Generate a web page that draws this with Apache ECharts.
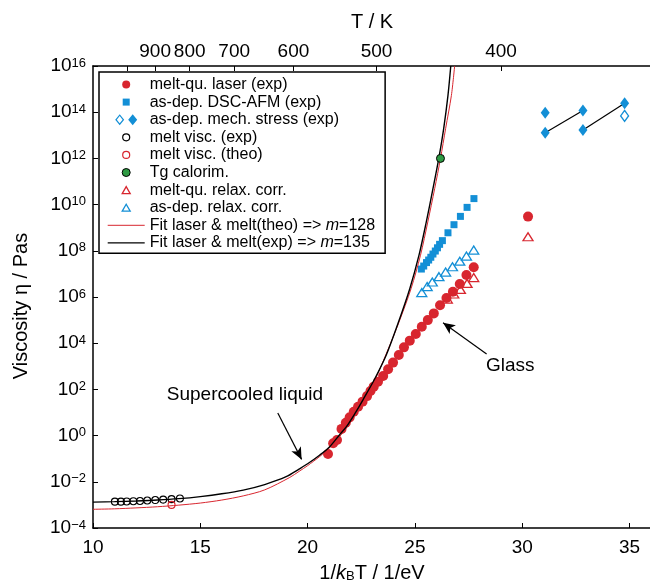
<!DOCTYPE html>
<html>
<head>
<meta charset="utf-8">
<script src="https://cdn.jsdelivr.net/npm/echarts@6/dist/echarts.min.js"></script>
<style>
html, body { margin: 0; padding: 0; background: #fff; }
#chart { width: 650px; height: 585px; }
</style>
</head>
<body>
<div id="chart"></div>
<script>
// Boltzmann constant in eV/K, for the top temperature axis
const kB = 8.617333e-5

// x values are 1/kBT in 1/eV, y values are log10 of viscosity in Pa s
const laserX = [20.95, 21.19, 21.37, 21.58, 21.78, 21.96, 22.15, 22.35, 22.56, 22.77, 22.93, 23.08, 23.28, 23.52, 23.75, 23.98, 24.25, 24.49, 24.76, 25.04, 25.32, 25.60, 25.88, 26.17, 26.47, 26.77, 27.09, 27.40, 27.74, 30.27]
const laserLogEta = [-0.80, -0.33, -0.19, 0.29, 0.56, 0.79, 1.03, 1.25, 1.47, 1.71, 1.93, 2.12, 2.33, 2.58, 2.87, 3.16, 3.49, 3.82, 4.11, 4.40, 4.71, 5.00, 5.29, 5.64, 5.96, 6.23, 6.56, 6.95, 7.29, 9.48]

const dscX = [25.30, 25.41, 25.54, 25.64, 25.74, 25.84, 25.95, 26.05, 26.15, 26.28, 26.54, 26.82, 27.12, 27.43, 27.75]
const dscLogEta = [7.21, 7.34, 7.49, 7.60, 7.72, 7.86, 7.99, 8.13, 8.28, 8.44, 8.78, 9.13, 9.49, 9.88, 10.26]

const stressX = [31.07, 31.07, 32.83, 32.83, 34.77]
const stressLogEta = [13.98, 13.11, 14.07, 13.23, 14.39]
const stressOpenX = [34.77]
const stressOpenLogEta = [13.84]
// pairs of stress points joined by a line (indexes into stressX)
const stressLinks = [[1, 2], [3, 4]]

const meltExpX = [11.02, 11.30, 11.57, 11.88, 12.19, 12.53, 12.90, 13.27, 13.66, 14.05]
const meltExpLogEta = [-2.86, -2.86, -2.85, -2.84, -2.83, -2.81, -2.79, -2.77, -2.75, -2.72]
const meltTheoX = [13.66]
const meltTheoLogEta = [-3.00]

const tgX = [26.19]
const tgLogEta = [12.0]

const relaxLaserX = [26.51, 26.81, 27.12, 27.43, 27.74, 30.27]
const relaxLaserLogEta = [5.91, 6.13, 6.33, 6.59, 6.84, 8.61]
const relaxDepX = [25.32, 25.57, 25.81, 26.12, 26.43, 26.75, 27.09, 27.40, 27.74]
const relaxDepLogEta = [6.19, 6.45, 6.65, 6.88, 7.08, 7.31, 7.55, 7.77, 8.03]

const fitTheoX = [10.0, 11.0, 12.0, 13.0, 14.0, 15.0, 16.0, 17.0, 18.0, 19.17, 19.6, 20.0, 20.57, 21.03, 21.5, 21.81, 22.2, 22.58, 23.16, 23.70, 24.26, 24.82, 25.26, 25.60, 25.92, 26.19, 26.43, 26.70, 26.85]
const fitTheoLogEta = [-3.19, -3.17, -3.13, -3.08, -3.01, -2.92, -2.79, -2.61, -2.35, -1.81, -1.55, -1.30, -0.90, -0.52, -0.03, 0.33, 0.88, 1.48, 2.46, 3.62, 4.92, 6.36, 7.81, 9.25, 10.69, 11.99, 13.29, 14.73, 16.0]
const fitExpX = [10.0, 11.0, 12.0, 13.0, 14.0, 15.0, 16.0, 17.0, 18.0, 19.0, 19.6, 20.0, 20.57, 21.03, 21.5, 21.81, 22.2, 22.58, 23.13, 23.67, 24.21, 24.76, 25.19, 25.53, 25.84, 26.11, 26.34, 26.54, 26.67]
const fitExpLogEta = [-2.88, -2.86, -2.83, -2.79, -2.73, -2.64, -2.52, -2.36, -2.12, -1.78, -1.45, -1.22, -0.84, -0.48, 0.05, 0.39, 0.95, 1.55, 2.46, 3.50, 4.85, 6.36, 7.81, 9.25, 10.69, 11.99, 13.29, 14.73, 16.0]

// top axis ticks in K, the first one carries no label
const tempTicks = [1000, 900, 800, 700, 600, 500, 400]
const tempLabels = [900, 800, 700, 600, 500, 400]

const noteText = ['Supercooled liquid', 'Glass']
const noteX = [17.08, 29.44]
const noteLogEta = [1.76, 3.01]
const arrowFrom = [[18.61, 0.98], [28.34, 3.53]]
const arrowTo = [[19.72, -1.03], [26.31, 4.89]]

const RED = '#d8262f'
const BLUE = '#138fd6'
const GREEN = '#2e9a42'
const FONT = '"Liberation Sans", Arial, sans-serif'

const pts = (xs, ys) => xs.map((x, i) => [x, ys[i]])
const toInvEv = T => 1 / (kB * T)

// legend icons live in a 12 px high box so they keep their own size
const BOX = 'path://M0 0L0 0M12 12L12 12'
const ICON_DOT = BOX + 'M2 6A4 4 0 1 1 10 6A4 4 0 1 1 2 6Z'
const ICON_RING = BOX + 'M2.5 6A3.5 3.5 0 1 1 9.5 6A3.5 3.5 0 1 1 2.5 6Z'
const ICON_SQUARE = BOX + 'M2.5 2.5L9.5 2.5L9.5 9.5L2.5 9.5Z'
const ICON_TRI = BOX + 'M6 2.5L10 9.5L2 9.5Z'
const ICON_DIAMONDS = 'path://M0 0L0 0M22 12L22 12M4.5 0.5L9 6L4.5 11.5L0 6ZM4.5 2.4L1.6 6L4.5 9.6L7.4 6ZM17.5 0.5L22 6L17.5 11.5L13 6Z'
const ICON_LINE = 'path://M0 0L0 0M37 12L37 12M0 6L37 6'

const axisLine = { show: true, onZero: false, lineStyle: { color: '#000', width: 1.5 } }
const axisTick = { show: true, inside: true, length: 5, lineStyle: { color: '#000', width: 1 } }

const linkSeries = stressLinks.map((pair, k) => ({
  name: 'stress link ' + (k + 1),
  type: 'line',
  symbol: 'none',
  silent: true,
  z: 2,
  lineStyle: { color: '#000', width: 1.2 },
  data: pair.map(i => [stressX[i], stressLogEta[i]])
}))

const option = {
  animation: false,
  textStyle: { fontFamily: FONT, color: '#000' },
  grid: { left: 93, top: 66, right: -1, bottom: 57, outerBoundsMode: 'none', containLabel: false },
  legend: {
    orient: 'vertical',
    left: 99,
    top: 72,
    padding: [4.5, 10, 2.3, 8],
    itemWidth: 37,
    itemHeight: 12,
    itemGap: 1.6,
    symbolKeepAspect: true,
    backgroundColor: '#fff',
    borderColor: '#000',
    borderWidth: 1.5,
    borderRadius: 0,
    selectedMode: false,
    textStyle: {
      fontFamily: FONT, fontSize: 16, lineHeight: 16, color: '#000',
      rich: { i: { fontFamily: FONT, fontSize: 16, fontStyle: 'italic', color: '#000' } }
    },
    formatter: name => name.replace(' m=', ' {i|m}='),
    data: [
      { name: 'melt-qu. laser (exp)', icon: ICON_DOT, itemStyle: { color: RED, borderWidth: 0 } },
      { name: 'as-dep. DSC-AFM (exp)', icon: ICON_SQUARE, itemStyle: { color: BLUE, borderWidth: 0 } },
      { name: 'as-dep. mech. stress (exp)', icon: ICON_DIAMONDS, itemStyle: { color: BLUE, borderWidth: 0 } },
      { name: 'melt visc. (exp)', icon: ICON_RING, itemStyle: { color: 'rgba(0,0,0,0)', borderColor: '#000', borderWidth: 1.2 } },
      { name: 'melt visc. (theo)', icon: ICON_RING, itemStyle: { color: 'rgba(0,0,0,0)', borderColor: RED, borderWidth: 1.2 } },
      { name: 'Tg calorim.', icon: ICON_DOT, itemStyle: { color: GREEN, borderColor: '#000', borderWidth: 1 } },
      { name: 'melt-qu. relax. corr.', icon: ICON_TRI, itemStyle: { color: 'rgba(0,0,0,0)', borderColor: RED, borderWidth: 1.3 } },
      { name: 'as-dep. relax. corr.', icon: ICON_TRI, itemStyle: { color: 'rgba(0,0,0,0)', borderColor: BLUE, borderWidth: 1.3 } },
      { name: 'Fit laser & melt(theo) => m=128', icon: ICON_LINE, itemStyle: { color: 'rgba(0,0,0,0)', borderColor: RED, borderWidth: 1 } },
      { name: 'Fit laser & melt(exp) => m=135', icon: ICON_LINE, itemStyle: { color: 'rgba(0,0,0,0)', borderColor: '#000', borderWidth: 1.4 } }
    ]
  },
  xAxis: [
    {
      type: 'value',
      position: 'bottom',
      min: 10,
      max: 36,
      interval: 5,
      name: '1/{i|k}{sub|B}T / 1/eV',
      nameLocation: 'middle',
      nameGap: 35,
      nameMoveOverlap: false,
      nameTextStyle: {
        fontFamily: FONT, fontSize: 20, color: '#000',
        rich: {
          i: { fontFamily: FONT, fontSize: 20, fontStyle: 'italic', color: '#000' },
          sub: { fontFamily: FONT, fontSize: 13, color: '#000', verticalAlign: 'bottom', lineHeight: 10 }
        }
      },
      axisLine: axisLine,
      axisTick: axisTick,
      splitLine: { show: false },
      axisLabel: { fontFamily: FONT, fontSize: 19, color: '#000', margin: 10, showMaxLabel: false }
    },
    {
      type: 'value',
      position: 'top',
      min: 10,
      max: 36,
      name: 'T / K',
      nameLocation: 'middle',
      nameGap: 34,
      nameMoveOverlap: false,
      nameTextStyle: { fontFamily: FONT, fontSize: 20, color: '#000' },
      axisLine: axisLine,
      axisTick: Object.assign({}, axisTick, { customValues: tempTicks.map(toInvEv) }),
      splitLine: { show: false },
      axisLabel: {
        fontFamily: FONT, fontSize: 19, color: '#000', margin: 5,
        customValues: tempLabels.map(toInvEv),
        formatter: v => String(Math.round(1 / (kB * v)))
      }
    }
  ],
  yAxis: {
    type: 'value',
    min: -4,
    max: 16,
    interval: 2,
    name: 'Viscosity η / Pas',
    nameLocation: 'middle',
    nameRotate: 90,
    nameGap: 62,
    nameMoveOverlap: false,
    nameTextStyle: { fontFamily: FONT, fontSize: 20, color: '#000', padding: [0, 18, 0, 0] },
    axisLine: axisLine,
    axisTick: axisTick,
    splitLine: { show: false },
    axisLabel: {
      margin: 7,
      color: '#000',
      formatter: v => '{b|10}{s|' + (v < 0 ? '\u2212' + (-v) : v) + '}',
      rich: {
        b: { fontFamily: FONT, fontSize: 19, lineHeight: 19, color: '#000' },
        s: { fontFamily: FONT, fontSize: 13, lineHeight: 11, verticalAlign: 'top', color: '#000' }
      }
    }
  },
  series: [
    {
      name: 'melt-qu. laser (exp)',
      type: 'scatter',
      symbol: 'circle',
      symbolSize: 10,
      z: 2,
      itemStyle: { color: RED, opacity: 1 },
      data: pts(laserX, laserLogEta)
    },
    {
      name: 'as-dep. DSC-AFM (exp)',
      type: 'scatter',
      symbol: 'rect',
      symbolSize: 7,
      z: 2,
      itemStyle: { color: BLUE, opacity: 1 },
      data: pts(dscX, dscLogEta)
    },
    ...linkSeries,
    {
      name: 'as-dep. mech. stress (exp)',
      type: 'scatter',
      symbol: 'diamond',
      symbolSize: [9, 12],
      z: 4,
      itemStyle: { color: BLUE, opacity: 1 },
      data: pts(stressX, stressLogEta)
    },
    {
      name: 'as-dep. mech. stress (exp)',
      type: 'scatter',
      symbol: 'diamond',
      symbolSize: [8, 11],
      z: 4,
      itemStyle: { color: '#fff', borderColor: BLUE, borderWidth: 1.3, opacity: 1 },
      data: pts(stressOpenX, stressOpenLogEta)
    },
    {
      name: 'melt visc. (exp)',
      type: 'scatter',
      symbol: 'circle',
      symbolSize: 7,
      z: 4,
      itemStyle: { color: 'rgba(0,0,0,0)', borderColor: '#000', borderWidth: 1.1, opacity: 1 },
      data: pts(meltExpX, meltExpLogEta)
    },
    {
      name: 'melt visc. (theo)',
      type: 'scatter',
      symbol: 'circle',
      symbolSize: 7,
      z: 4,
      itemStyle: { color: 'rgba(0,0,0,0)', borderColor: RED, borderWidth: 1.1, opacity: 1 },
      data: pts(meltTheoX, meltTheoLogEta)
    },
    {
      name: 'melt-qu. relax. corr.',
      type: 'scatter',
      symbol: 'triangle',
      symbolSize: [10, 8],
      z: 2,
      itemStyle: { color: 'rgba(0,0,0,0)', borderColor: RED, borderWidth: 1.3, opacity: 1 },
      data: pts(relaxLaserX, relaxLaserLogEta)
    },
    {
      name: 'as-dep. relax. corr.',
      type: 'scatter',
      symbol: 'triangle',
      symbolSize: [10, 8],
      z: 2,
      itemStyle: { color: 'rgba(0,0,0,0)', borderColor: BLUE, borderWidth: 1.3, opacity: 1 },
      data: pts(relaxDepX, relaxDepLogEta)
    },
    {
      name: 'Fit laser & melt(theo) => m=128',
      type: 'line',
      symbol: 'none',
      showSymbol: false,
      smooth: 0.3,
      z: 3,
      lineStyle: { color: RED, width: 1 },
      itemStyle: { color: RED },
      data: pts(fitTheoX, fitTheoLogEta)
    },
    {
      name: 'Fit laser & melt(exp) => m=135',
      type: 'line',
      symbol: 'none',
      showSymbol: false,
      smooth: 0.3,
      z: 3,
      lineStyle: { color: '#000', width: 1.4 },
      itemStyle: { color: '#000' },
      data: pts(fitExpX, fitExpLogEta)
    },
    {
      name: 'Tg calorim.',
      type: 'scatter',
      symbol: 'circle',
      symbolSize: 8,
      z: 5,
      itemStyle: { color: GREEN, borderColor: '#000', borderWidth: 1, opacity: 1 },
      data: pts(tgX, tgLogEta)
    },
    {
      name: 'notes',
      type: 'scatter',
      symbolSize: 1,
      silent: true,
      z: 5,
      itemStyle: { color: 'rgba(0,0,0,0)', opacity: 1 },
      label: { show: true, position: 'inside', formatter: '{b}', fontFamily: FONT, fontSize: 19, color: '#000', opacity: 1 },
      data: noteText.map((t, i) => ({ name: t, value: [noteX[i], noteLogEta[i]] })),
      markLine: {
        silent: true,
        animation: false,
        symbol: ['none', 'arrow'],
        symbolSize: [8, 12],
        label: { show: false },
        lineStyle: { color: '#000', width: 1.2, type: 'solid', opacity: 1 },
        data: arrowFrom.map((p, i) => [{ coord: p }, { coord: arrowTo[i] }])
      }
    }
  ]
}

const myChart = echarts.init(document.getElementById('chart'))
myChart.setOption(option)
</script>
</body>
</html>
